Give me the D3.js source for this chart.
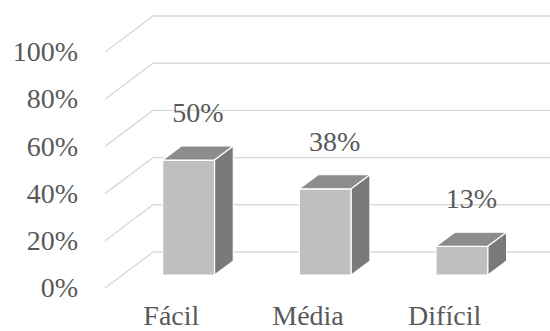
<!DOCTYPE html>
<html>
<head>
<meta charset="utf-8">
<script src="https://cdn.jsdelivr.net/npm/d3@7"></script>
<style>
  html, body { margin: 0; padding: 0; background: #fff; }
  svg { display: block; }
  svg text { font-family: "Liberation Serif", Tinos, "Times New Roman", serif !important; }
</style>
</head>
<body>
<script>
const categories = ["Fácil", "Média", "Difícil"];
const values = [50, 37.5, 12.5];
const tickValues = [0, 20, 40, 60, 80, 100];

const W = 550, H = 331;
const svg = d3.select("body").append("svg").attr("width", W).attr("height", H);

// depth (oblique projection) of the floor: full depth offset
const depthDX = 48, depthDY = -36;
const barDepthStart = 0.36, barDepthEnd = 0.75;

// scales
const x = d3.scaleBand(categories, [103, 513]).paddingInner(0).paddingOuter(0);
const yGrid = d3.scaleLinear([0, 100], [288, 52]);   // front edge of the floor/wall
const yBar = d3.scaleLinear([0, 100], [0, 230]);      // bar heights
const barW = x.bandwidth() * 0.38;
const gridX0 = 105, gridBackX = gridX0 + depthDX;

// gridlines
const grid = svg.append("g");
tickValues.forEach(t => {
  const yf = yGrid(t);
  grid.append("polyline")
    .attr("points", [[gridX0, yf], [gridBackX, yf + depthDY], [W + 5, yf + depthDY]].map(p => p.join(",")).join(" "))
    .attr("fill", "none")
    .attr("stroke", "#d9d9d9")
    .attr("stroke-width", 1.4);
});

// tick labels
svg.append("g").selectAll("text").data(tickValues).join("text")
  .attr("x", 78)
  .attr("y", d => yGrid(d))
  .attr("dy", "0.33em")
  .attr("text-anchor", "end")
  .style("font-size", "28px")
  .style("fill", "#595959")
  .text(d => d + "%");

// bars
const fdx = depthDX * barDepthStart, fdy = depthDY * barDepthStart;
const bdx = depthDX * (barDepthEnd - barDepthStart), bdy = depthDY * (barDepthEnd - barDepthStart);

const bars = svg.append("g").selectAll("g").data(categories.map((c, i) => ({ c, v: values[i] }))).join("g");
bars.each(function(d) {
  const g = d3.select(this);
  const cx = x(d.c) + x.bandwidth() / 2 + fdx;
  const x0 = cx - barW / 2, x1 = cx + barW / 2;
  const yb = yGrid(0) + fdy;
  const yt = yb - yBar(d.v);
  const poly = pts => pts.map(p => p.join(",")).join(" ");
  // front
  g.append("polygon").attr("points", poly([[x0, yb], [x1, yb], [x1, yt], [x0, yt]]))
    .attr("fill", "#bfbfbf").attr("stroke", "#fff").attr("stroke-width", 1.2).attr("stroke-linejoin", "round");
  // top
  g.append("polygon").attr("points", poly([[x0, yt], [x1, yt], [x1 + bdx, yt + bdy], [x0 + bdx, yt + bdy]]))
    .attr("fill", "#8c8c8c").attr("stroke", "#fff").attr("stroke-width", 1.2).attr("stroke-linejoin", "round");
  // side
  g.append("polygon").attr("points", poly([[x1, yb], [x1 + bdx, yb + bdy], [x1 + bdx, yt + bdy], [x1, yt]]))
    .attr("fill", "#797979").attr("stroke", "#fff").attr("stroke-width", 1.2).attr("stroke-linejoin", "round");
  // value label
  g.append("text")
    .attr("x", cx + bdx / 2)
    .attr("y", yt + bdy - 24)
    .attr("text-anchor", "middle")
    .style("font-size", "28px")
    .style("fill", "#595959")
    .text(Math.round(d.v) + "%");
});

// category labels
svg.append("g").selectAll("text").data(categories).join("text")
  .attr("x", d => x(d) + x.bandwidth() / 2)
  .attr("y", 325)
  .attr("text-anchor", "middle")
  .style("font-size", "28px")
  .style("fill", "#595959")
  .text(d => d);
</script>
</body>
</html>
